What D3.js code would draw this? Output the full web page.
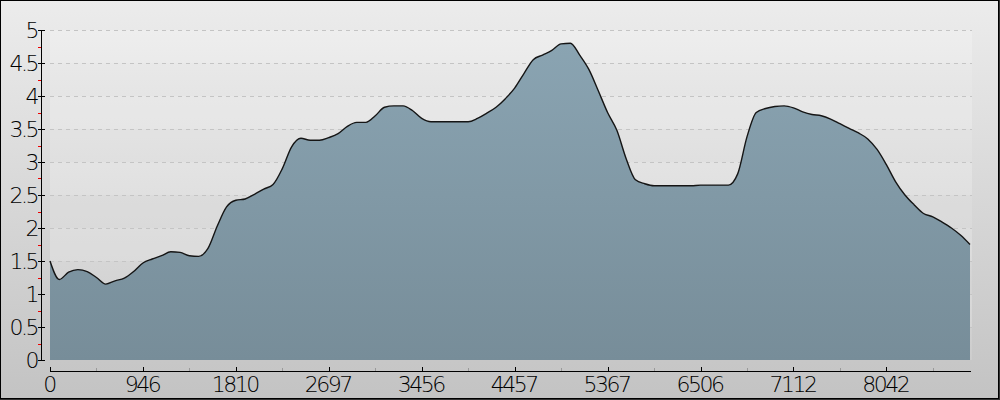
<!DOCTYPE html>
<html>
<head>
<meta charset="utf-8">
<script src="https://cdn.jsdelivr.net/npm/d3@7"></script>
<style>
  body { margin: 0; background: #fff; }
  svg text { font-family: "DejaVu Sans", sans-serif; font-weight: 200; fill: #000; }
</style>
</head>
<body>
<div id="chart"></div>
<script>
// elevation profile, one value per sample point
let elevation = [1.50, 1.22, 1.33, 1.37, 1.34, 1.25, 1.15, 1.20, 1.24, 1.34,
                 1.47, 1.53, 1.58, 1.64, 1.63, 1.58, 1.57, 1.69, 2.03, 2.32,
                 2.42, 2.44, 2.51, 2.59, 2.66, 2.90, 3.23, 3.36, 3.33, 3.33,
                 3.37, 3.43, 3.54, 3.60, 3.60, 3.70, 3.83, 3.85, 3.85, 3.78,
                 3.66, 3.61, 3.61, 3.61, 3.61, 3.61, 3.66, 3.74, 3.83, 3.96,
                 4.12, 4.34, 4.55, 4.62, 4.69, 4.79, 4.80, 4.62, 4.40, 4.08,
                 3.75, 3.48, 3.05, 2.73, 2.67, 2.64, 2.64, 2.64, 2.64, 2.64,
                 2.65, 2.65, 2.65, 2.65, 2.82, 3.38, 3.75, 3.81, 3.84, 3.85,
                 3.82, 3.76, 3.72, 3.70, 3.65, 3.58, 3.51, 3.44, 3.35, 3.19,
                 2.96, 2.70, 2.50, 2.35, 2.22, 2.17, 2.09, 2.00, 1.89, 1.75]
// distance labels shown every 10 samples
let xTickLabels = ['0', '946', '1810', '2697', '3456', '4457', '5367', '6506', '7112', '8042']
let yTicks = [0, 0.5, 1, 1.5, 2, 2.5, 3, 3.5, 4, 4.5, 5]

let width = 1000, height = 400
let plotLeft = 50, plotRight = 970, plotTop = 30, plotBottom = 360

let svg = d3.select('#chart').append('svg')
    .attr('width', width).attr('height', height)

let defs = svg.append('defs')
let bg = defs.append('linearGradient').attr('id', 'bg')
    .attr('x1', 0).attr('y1', 0).attr('x2', 0).attr('y2', 1)
bg.append('stop').attr('offset', '0%').attr('stop-color', '#ececec')
bg.append('stop').attr('offset', '100%').attr('stop-color', '#c3c3c3')

let fillGrad = defs.append('linearGradient').attr('id', 'areaFill')
    .attr('x1', 0).attr('y1', 0).attr('x2', 0).attr('y2', 1)
fillGrad.append('stop').attr('offset', '0%').attr('stop-color', '#8aa4b2')
fillGrad.append('stop').attr('offset', '100%').attr('stop-color', '#778d99')

// frame
svg.append('rect').attr('x', 0).attr('y', 0).attr('width', width).attr('height', height)
    .style('fill', 'url(#bg)')
svg.append('rect').attr('x', 0.5).attr('y', 0.5).attr('width', width - 2).attr('height', height - 2)
    .style('fill', 'none').style('stroke', '#000')
svg.append('line').attr('x1', width - 0.5).attr('x2', width - 0.5).attr('y1', 0).attr('y2', height)
    .style('stroke', '#333')
svg.append('line').attr('x1', 0).attr('x2', width).attr('y1', height - 0.5).attr('y2', height - 0.5)
    .style('stroke', '#333')

let x = d3.scaleLinear().domain([0, elevation.length - 1]).range([plotLeft, plotRight])
let y = d3.scaleLinear().domain([0, 5]).range([plotBottom, plotTop])

// alternating bands in the plot area
let bands = d3.range(0, 5, 0.5)
svg.selectAll('rect.band')
    .data(bands)
    .enter()
    .append('rect')
    .attr('class', 'band')
    .attr('x', plotLeft)
    .attr('width', plotRight - plotLeft + 2)
    .attr('y', d => y(d + 0.5))
    .attr('height', d => y(d) - y(d + 0.5))
    .style('fill', '#fff')
    .style('opacity', (d, i) => i % 2 ? 0.22 : 0.12)

// dashed grid
svg.selectAll('line.grid')
    .data(yTicks.slice(1))
    .enter()
    .append('line')
    .attr('x1', plotLeft).attr('x2', plotRight + 2)
    .attr('y1', d => Math.round(y(d)) + 0.5).attr('y2', d => Math.round(y(d)) + 0.5)
    .style('stroke', '#c4c4c4')
    .style('stroke-dasharray', '4,4')

// profile area
let area = d3.area()
    .x((d, i) => x(i))
    .y0(y(0))
    .y1(d => y(d))
    .curve(d3.curveMonotoneX)
let line = d3.line()
    .x((d, i) => x(i))
    .y(d => y(d))
    .curve(d3.curveMonotoneX)

svg.append('path').datum(elevation)
    .attr('d', area)
    .style('fill', 'url(#areaFill)')
svg.append('path').datum(elevation)
    .attr('d', line)
    .style('fill', 'none')
    .style('stroke', '#151515')
    .style('stroke-width', 1.4)

// y axis
let yAxis = svg.append('g')
svg.append('line').attr('x1', 41.5).attr('x2', 41.5).attr('y1', plotTop).attr('y2', plotBottom + 1)
    .style('stroke', '#000')
yAxis.selectAll('line.major')
    .data(yTicks)
    .enter()
    .append('line')
    .attr('x1', 38).attr('x2', 45)
    .attr('y1', d => Math.round(y(d)) + 0.5).attr('y2', d => Math.round(y(d)) + 0.5)
    .style('stroke', '#000')
yAxis.selectAll('line.minor')
    .data(yTicks.slice(0, -1).map(d => d + 0.25))
    .enter()
    .append('line')
    .attr('x1', 38).attr('x2', 41)
    .attr('y1', d => Math.round(y(d)) + 0.5).attr('y2', d => Math.round(y(d)) + 0.5)
    .style('stroke', '#e00')
yAxis.selectAll('text')
    .data(yTicks)
    .enter()
    .append('text')
    .attr('x', 37)
    .attr('y', d => y(d))
    .attr('dy', '0.36em')
    .attr('text-anchor', 'end')
    .style('font-size', '22px')
    .style('letter-spacing', '-2.5px')
    .text(d => d)

// x axis
let axisY = 371
let xTicks = d3.range(0, elevation.length, 10)
svg.append('line').attr('x1', plotLeft).attr('x2', plotRight + 1).attr('y1', axisY + 0.5).attr('y2', axisY + 0.5)
    .style('stroke', '#000')
svg.selectAll('line.xminor')
    .data(xTicks.map(d => d + 5))
    .enter()
    .append('line')
    .attr('x1', d => Math.round(x(d)) + 0.5).attr('x2', d => Math.round(x(d)) + 0.5)
    .attr('y1', axisY - 3).attr('y2', axisY)
    .style('stroke', '#999')
svg.selectAll('line.xmajor')
    .data(xTicks)
    .enter()
    .append('line')
    .attr('x1', d => Math.round(x(d)) + 0.5).attr('x2', d => Math.round(x(d)) + 0.5)
    .attr('y1', axisY - 4).attr('y2', axisY)
    .style('stroke', '#000')
svg.selectAll('text.xlabel')
    .data(xTicks)
    .enter()
    .append('text')
    .attr('x', d => x(d) - 1)
    .attr('y', 392)
    .attr('text-anchor', 'middle')
    .style('font-size', '22px')
    .style('letter-spacing', '-2.5px')
    .text((d, i) => xTickLabels[i])
</script>
</body>
</html>
